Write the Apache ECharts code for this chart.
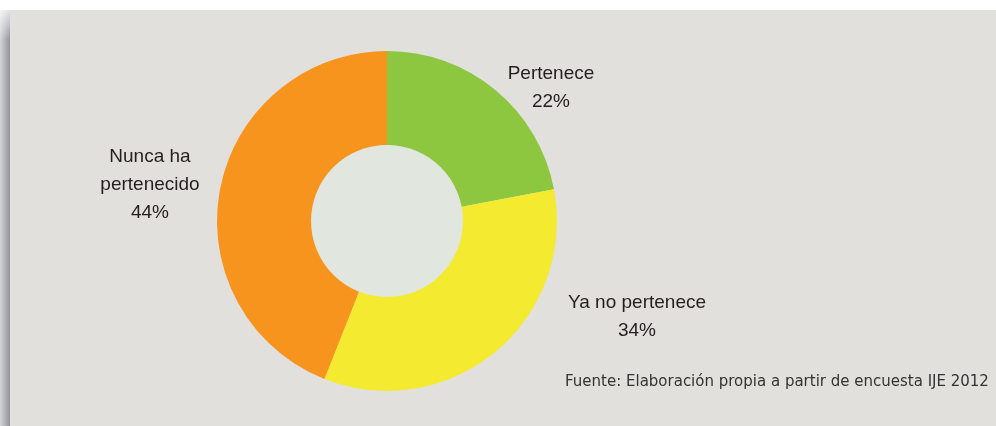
<!DOCTYPE html>
<html><head><meta charset="utf-8">
<script src="https://cdn.jsdelivr.net/npm/echarts@6/dist/echarts.min.js"></script>
<style>html,body{margin:0;padding:0;background:#fff}#c{width:996px;height:426px}</style>
</head><body><div id="c"></div>
<script>
const categories = ['Pertenece', 'Ya no pertenece', 'Nunca ha\npertenecido'];
const values = [22, 34, 44];
const colors = ['#8dc63f', '#f4ea2f', '#f7941d'];
const labelPos = [[551, 88], [637, 317], [150, 185]];
const source = 'Fuente: Elaboración propia a partir de encuesta IJE 2012';

const chart = echarts.init(document.getElementById('c'), null, {renderer: 'canvas'});
chart.setOption({
  animation: false,
  graphic: [
    {type: 'rect', z: -10, shape: {x: 0, y: 10, width: 12, height: 430},
     style: {fill: new echarts.graphic.LinearGradient(0, 0, 1, 0, [{offset: 0, color: '#d4d5d8'}, {offset: 1, color: '#85878c'}])}},
    {type: 'rect', z: -10, shape: {x: 0, y: 0, width: 14, height: 40},
     style: {fill: new echarts.graphic.LinearGradient(0, 0, 0, 1, [{offset: 0, color: '#ffffff'}, {offset: 1, color: 'rgba(255,255,255,0)'}])}},
    {type: 'rect', z: -9, shape: {x: 10, y: 10, width: 990, height: 420}, style: {fill: '#e2e0dc'}},
    {type: 'text', z: 10, left: 565, top: 375,
     style: {text: source, fill: '#333333', font: '15px "DejaVu Sans", sans-serif'}}
  ],
  series: [
    {
      type: 'pie', center: [387, 221], radius: [0, 76], silent: true,
      label: {show: false}, labelLine: {show: false},
      data: [{value: 1, itemStyle: {color: '#e1e6df'}}], z: 3
    },
    {
      type: 'pie', center: [387, 221], radius: [75, 170], startAngle: 90, clockwise: true,
      avoidLabelOverlap: false,
      label: {show: true, position: 'outside', formatter: p => p.name + '\n' + p.value + '%',
        color: '#231f20', fontSize: 19, lineHeight: 28, fontFamily: '"Liberation Sans", Arial, sans-serif', align: 'center'},
      labelLine: {show: false},
      labelLayout: p => ({x: labelPos[p.dataIndex][0], y: labelPos[p.dataIndex][1], align: 'center', verticalAlign: 'middle'}),
      data: categories.map((c, i) => ({name: c, value: values[i], itemStyle: {color: colors[i]}}))
    }
  ]
});
</script></body></html>
